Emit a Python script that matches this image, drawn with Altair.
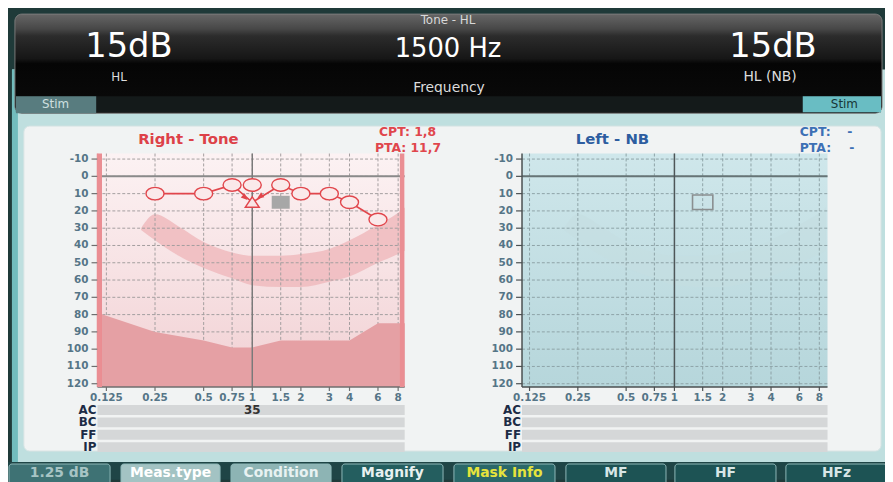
import altair as alt
import pandas as pd

# ---------------- values ----------------
FREQ_TICKS = [0.125, 0.25, 0.5, 0.75, 1, 1.5, 2, 3, 4, 6, 8]
FREQ_LABELS = ["0.125", "0.25", "0.5", "0.75", "1", "1.5", "2", "3", "4", "6", "8"]
DB_TICKS = [-10, 0, 10, 20, 30, 40, 50, 60, 70, 80, 90, 100, 110, 120]
DB_LABELS = ["-10", "0", "10", "20", "30", "40", "50", "60", "70", "80", "90", "100", "110", "120"]

RIGHT_AC_FREQ = [0.25, 0.5, 0.75, 1, 1.5, 2, 3, 4, 6]
RIGHT_AC_DB = [10, 10, 5, 5, 5, 10, 10, 15, 25]
RIGHT_LINE_FREQ = [0.25, 0.5, 0.75, 1, 1.5, 2, 3, 4, 6]
RIGHT_LINE_DB = [10, 10, 5, 15, 5, 10, 10, 15, 25]
RIGHT_MASKED_FREQ = [1]
RIGHT_MASKED_DB = [15]
ARROW_FREQ = [0.9, 1.12]
ARROW_DB = [12.2, 11.6]
ARROW_ANGLE = [133, 237]
CURSOR_FREQ = [1.5]
CURSOR_DB = [15]

BANANA_FREQ = [0.205, 0.25, 0.35, 0.5, 0.75, 1, 1.5, 2, 3, 4, 6, 8, 8.8]
BANANA_TOP = [30, 22, 29, 38, 44, 46, 46, 45, 42, 37, 28, 21, 18]
BANANA_BOTTOM = [31, 37, 46, 53, 59, 63, 64, 64, 61, 58, 50, 45, 43]

LIMIT_FREQ = [0.11, 0.25, 0.5, 0.75, 1, 1.5, 2, 4, 6, 8.8]
LIMIT_DB = [79, 90, 95, 99, 99, 95, 95, 95, 85, 85]

ROWS = ["AC", "BC", "FF", "IP"]
ROW_VALUE_FREQ = [1]
ROW_VALUE_ROW = ["AC"]
ROW_VALUE_TEXT = ["35"]

HEADER_TITLE = "Tone - HL"
HEADER_LEFT = ["15dB", "HL"]
HEADER_CENTER = ["1500 Hz", "Frequency"]
HEADER_RIGHT = ["15dB", "HL (NB)"]
RIGHT_TITLE = "Right - Tone"
LEFT_TITLE = "Left - NB"
RIGHT_STATS = ["CPT: 1,8", "PTA: 11,7"]
LEFT_STATS = [["CPT:", "-"], ["PTA:", "-"]]
BUTTONS = ["1.25 dB", "Meas.type", "Condition", "Magnify", "Mask Info", "MF", "HF", "HFz"]

# ---------------- layout / style ----------------
FONT = "DejaVu Sans"
W, H = 885, 474
RED = "#e1464c"
ONE = pd.DataFrame({"k": [0]})
YDOM = [-13.2, 121.9]
YRANGE = [144.7, 380.3]
XDOM_L, XRANGE_L = [0.1101, 8.78], [90.3, 400.3]
XDOM_R, XRANGE_R = [0.1122, 9.0], [518.7, 827.0]

ELLIPSE = "M -1 0 A 1 0.7 0 1 1 1 0 A 1 0.7 0 1 1 -1 0 Z"
TRIANGLE = "M 0 -0.78 L 1 0.72 L -1 0.72 Z"
RECT = "M -1 -0.72 L 1 -0.72 L 1 0.72 L -1 0.72 Z"
ARROW = "M 0 -1 L 0.8 0.8 L -0.8 0.8 Z"


def grad(stops):
    return alt.LinearGradient(gradient="linear", x1=0, y1=0, x2=0, y2=1,
                              stops=[alt.GradientStop(offset=o, color=c) for o, c in stops])


def box(x0, y0, x1, y1, fill, stroke=None, radius=0, sw=1.0):
    kw = {"fill": fill, "cornerRadius": radius}
    if stroke is not None:
        kw["stroke"] = stroke
        kw["strokeWidth"] = sw
    return alt.Chart(ONE).mark_rect(**kw).encode(
        x=alt.value(x0), x2=alt.value(x1), y=alt.value(y0), y2=alt.value(y1))


def label(s, x, y, size, color, weight="normal", align="center"):
    return alt.Chart(ONE).mark_text(text=s, font=FONT, fontSize=size, color=color,
                                    fontWeight=weight, align=align, baseline="middle").encode(
        x=alt.value(x), y=alt.value(y))


def audiogram(xdom, xrange, th, data_marks, limit=False, edges=False):
    xs = alt.Scale(type="log", domain=xdom, range=xrange, nice=False)
    ys = alt.Scale(type="linear", domain=YDOM, range=YRANGE, nice=False, zero=False)
    fmin, fmax = xdom
    ymin, ymax = YDOM

    def xf(field):
        return alt.X(field, type="quantitative", scale=xs, axis=None)

    def yf(field):
        return alt.Y(field, type="quantitative", scale=ys, axis=None)

    def xd(v):
        return alt.XDatum(v, type="quantitative", scale=xs, axis=None)

    def yd(v):
        return alt.YDatum(v, type="quantitative", scale=ys, axis=None)

    band_df = pd.DataFrame({"f": BANANA_FREQ, "top": BANANA_TOP, "bottom": BANANA_BOTTOM})
    tick_f = pd.DataFrame({"f": FREQ_TICKS, "lab": FREQ_LABELS})
    tick_db = pd.DataFrame({"db": DB_TICKS, "lab": DB_LABELS})
    L = [
        alt.Chart(ONE).mark_rect(fill=grad(th["bg"])).encode(
            x=xd(fmin), x2=alt.X2Datum(fmax), y=yd(ymin), y2=alt.Y2Datum(ymax)),
        alt.Chart(band_df).mark_area(fill=th["band"], opacity=th["band_op"],
                                     interpolate="monotone").encode(
            x=xf("f"), y=yf("top"), y2=alt.Y2("bottom")),
        alt.Chart(tick_f).mark_rule(color=th["grid"], strokeDash=[3, 2], strokeWidth=1).encode(
            x=xf("f"), y=yd(ymin), y2=alt.Y2Datum(ymax)),
        alt.Chart(tick_db).mark_rule(color=th["grid"], strokeDash=[3, 2], strokeWidth=1).encode(
            y=yf("db"), x=xd(fmin), x2=alt.X2Datum(fmax)),
    ]
    if limit:
        lim_df = pd.DataFrame({"f": LIMIT_FREQ, "db": LIMIT_DB})
        L.append(alt.Chart(lim_df).mark_area(fill="#e5a0a4", opacity=1).encode(
            x=xf("f"), y=yf("db"), y2=alt.Y2Datum(ymax)))
    L.append(alt.Chart(ONE).mark_rule(color=th["zero"], strokeWidth=2).encode(
        y=yd(0), x=xd(fmin), x2=alt.X2Datum(fmax)))
    L.append(alt.Chart(ONE).mark_rule(color=th["one"], strokeWidth=1.5).encode(
        x=xd(1), y=yd(ymin), y2=alt.Y2Datum(ymax)))
    # axes: domain lines, ticks and labels placed through the scales
    L += [
        alt.Chart(ONE).mark_rule(color=th["ydomain"], strokeWidth=1.5).encode(
            x=xd(fmin), y=yd(ymin), y2=alt.Y2Datum(ymax)),
        alt.Chart(ONE).mark_rule(color=th["axis"], strokeWidth=1.6).encode(
            y=yd(ymax), x=xd(fmin), x2=alt.X2Datum(fmax)),
        alt.Chart(tick_f).mark_rule(color=th["axis"], strokeWidth=1.2, y2Offset=4).encode(
            x=xf("f"), y=yd(ymax), y2=alt.Y2Datum(ymax)),
        alt.Chart(tick_db).mark_rule(color=th["axis"], strokeWidth=1.2, x2Offset=-6).encode(
            y=yf("db"), x=xd(fmin), x2=alt.X2Datum(fmin)),
        alt.Chart(tick_f).mark_text(font=FONT, fontSize=10.5, fontWeight="bold",
                                    color=th["label"], baseline="middle", dy=11).encode(
            x=xf("f"), y=yd(ymax), text="lab:N"),
        alt.Chart(tick_db).mark_text(font=FONT, fontSize=10.5, fontWeight="bold",
                                     color=th["label"], baseline="middle", align="right",
                                     dx=-9).encode(
            x=xd(fmin), y=yf("db"), text="lab:N"),
    ]
    if edges:
        L.append(alt.Chart(ONE).mark_rule(color="#ea8e93", strokeWidth=4.5, xOffset=2.3).encode(
            x=xd(fmin), y=yd(ymin), y2=alt.Y2Datum(ymax)))
        L.append(alt.Chart(ONE).mark_rule(color="#ea8e93", strokeWidth=4.5, xOffset=-2.6).encode(
            x=xd(fmax), y=yd(ymin), y2=alt.Y2Datum(ymax)))
    L += data_marks(xf, yf)
    return alt.layer(*L)


def right_ear_marks(xf, yf):
    line_df = pd.DataFrame({"f": RIGHT_LINE_FREQ, "db": RIGHT_LINE_DB})
    ac_df = pd.DataFrame({"f": RIGHT_AC_FREQ, "db": RIGHT_AC_DB})
    tri_df = pd.DataFrame({"f": RIGHT_MASKED_FREQ, "db": RIGHT_MASKED_DB})
    arr_df = pd.DataFrame({"f": ARROW_FREQ, "db": ARROW_DB, "a": ARROW_ANGLE})
    cur_df = pd.DataFrame({"f": CURSOR_FREQ, "db": CURSOR_DB})
    return [
        alt.Chart(line_df).mark_line(color=RED, strokeWidth=1.6).encode(x=xf("f"), y=yf("db")),
        alt.Chart(cur_df).mark_point(shape=RECT, size=330, filled=True, color="#a7a7a7",
                                     opacity=1).encode(x=xf("f"), y=yf("db")),
        alt.Chart(ac_df).mark_point(shape=ELLIPSE, size=330, filled=True, fill="#fae9ea",
                                    stroke=RED, strokeWidth=1.4, opacity=1).encode(
            x=xf("f"), y=yf("db")),
        alt.Chart(tri_df).mark_point(shape=TRIANGLE, size=200, filled=True, fill="#f8e4e5",
                                     stroke=RED, strokeWidth=1.4, opacity=1).encode(
            x=xf("f"), y=yf("db")),
        alt.Chart(arr_df).mark_point(shape=ARROW, size=55, filled=True, color=RED,
                                     opacity=1).encode(
            x=xf("f"), y=yf("db"), angle=alt.Angle("a:Q", scale=None)),
    ]


def left_ear_marks(xf, yf):
    cur_df = pd.DataFrame({"f": CURSOR_FREQ, "db": CURSOR_DB})
    return [
        alt.Chart(cur_df).mark_point(shape=RECT, size=420, filled=False, color="#8a8f90",
                                     strokeWidth=1.6, opacity=1).encode(x=xf("f"), y=yf("db")),
    ]


def rows_panel(xdom, xrange, with_value):
    xs = alt.Scale(type="log", domain=xdom, range=xrange, nice=False)
    rs = alt.Scale(domain=ROWS, range=[398.5, 446.0], paddingInner=0.2, paddingOuter=0)
    rows_df = pd.DataFrame({"row": ROWS})
    x_lo = alt.XDatum(xdom[0], type="quantitative", scale=xs, axis=None)
    y_row = alt.Y("row", type="nominal", scale=rs, axis=None)
    L = [
        alt.Chart(rows_df).mark_rect(color="#d5d7d8").encode(
            y=y_row, x=x_lo, x2=alt.X2Datum(xdom[1])),
        alt.Chart(rows_df).mark_text(font=FONT, fontSize=12, fontWeight="bold",
                                     color="#1c2b45", align="right", baseline="middle",
                                     dx=-1).encode(y=y_row, x=x_lo, text="row:N"),
    ]
    if with_value:
        v_df = pd.DataFrame({"f": ROW_VALUE_FREQ, "row": ROW_VALUE_ROW, "t": ROW_VALUE_TEXT})
        L.append(alt.Chart(v_df).mark_text(font=FONT, fontSize=12, fontWeight="bold",
                                           color="#333333", baseline="middle").encode(
            x=alt.X("f", type="quantitative", scale=xs, axis=None),
            y=y_row, text="t:N"))
    return alt.layer(*L)


LEFT_TH = dict(bg=[(0, "#fcf2f3"), (0.5, "#f7e2e4"), (1, "#f1d0d3")], band="#f0bcc0",
               band_op=0.9, grid="#a39e9f", zero="#8a8a8a", one="#7a7a7a",
               label="#557587", axis="#6e6e6e", ydomain="#ea8e93")
RIGHT_TH = dict(bg=[(0, "#cfe7eb"), (1, "#b6d6db")], band="#c4dde1", band_op=0.6,
                grid="#8ea3a7", zero="#667476", one="#4e5658",
                label="#557587", axis="#4a4f50", ydomain="#4a4f50")

# ---------------- chrome ----------------
layers = [
    box(4, 60, 885, 458, "#bfdfdf"),
    box(4, 60, 10, 458, "#72bcbd"),
    box(7, 4, 882, 104, grad([(0, "#666666"), (0.15, "#474747"), (0.22, "#2c2c2c"),
                              (0.45, "#161616"), (0.5, "#050505"), (1, "#0b0b0b")]),
        stroke="#7a7a7a", radius=7),
    box(8, 87, 881, 103, "#141a1a"),
    box(8, 87, 89, 104, "#587c7f"),
    box(802, 87, 881, 103, "#69bdc3"),
    box(16, 117, 881, 445, "#f1f3f3", stroke="#d6e3e3", radius=6),
    box(0, 456, 885, 474, "#1f4546"),
]

BTN_X = [(1, 103), (114, 214), (225, 326), (337, 439), (450, 552), (563, 664), (673, 775), (785, 887)]
BTN_FILL = ["#3e7274", "#a3c3c3", "#8db4b4", "#245e5f", "#2a6869", "#1d5354", "#1d5354", "#1d5354"]
BTN_TEXT = ["#a7c4c4", "#ffffff", "#e8f2f2", "#e8f0f0", "#e6e33c", "#d7e6e6", "#d7e6e6", "#d7e6e6"]
for (x0, x1), fc in zip(BTN_X, BTN_FILL):
    layers.append(box(x0, 458, x1, 480, fc, stroke="#8fb8b8", radius=3))

layers += [
    label(HEADER_TITLE, 444, 10, 12, "#d8d8d8"),
    label(HEADER_LEFT[0], 122, 37, 34, "#ffffff"),
    label(HEADER_CENTER[0], 444, 39, 26, "#ffffff"),
    label(HEADER_RIGHT[0], 772, 37, 34, "#ffffff"),
    label(HEADER_LEFT[1], 112, 68, 12, "#dcdcdc"),
    label(HEADER_CENTER[1], 445, 79, 14, "#dcdcdc"),
    label(HEADER_RIGHT[1], 769, 68, 14, "#dcdcdc"),
    label("Stim", 48, 95, 12, "#cfe0e0"),
    label("Stim", 844, 95, 12, "#173636"),
    label(RIGHT_TITLE, 182, 130, 15, "#dd4148", "bold"),
    label(LEFT_TITLE, 610, 130, 15, "#2d5da0", "bold"),
    label(RIGHT_STATS[0], 432, 123, 12.5, "#e0464c", "bold", align="right"),
    label(RIGHT_STATS[1], 437, 139, 12.5, "#e0464c", "bold", align="right"),
    label(LEFT_STATS[0][0], 799, 123, 12.5, "#3d70b5", "bold", align="left"),
    label(LEFT_STATS[0][1], 847, 123, 12.5, "#3d70b5", "bold", align="left"),
    label(LEFT_STATS[1][0], 799, 139, 12.5, "#3d70b5", "bold", align="left"),
    label(LEFT_STATS[1][1], 849, 139, 12.5, "#3d70b5", "bold", align="left"),
]

layers += [
    audiogram(XDOM_L, XRANGE_L, LEFT_TH, right_ear_marks, limit=True, edges=True),
    audiogram(XDOM_R, XRANGE_R, RIGHT_TH, left_ear_marks),
    rows_panel(XDOM_L, XRANGE_L, True),
    rows_panel(XDOM_R, XRANGE_R, False),
]

for (x0, x1), tc, name in zip(BTN_X, BTN_TEXT, BUTTONS):
    layers.append(label(name, (x0 + x1) / 2, 467, 14, tc, "bold"))

chart = alt.layer(*layers).resolve_scale(
    x="independent", y="independent"
).properties(
    width=W, height=H, padding=0,
    autosize=alt.AutoSizeParams(type="none"),
    background="#1f3a39",
).configure_view(stroke=None)

chart.save("out.html", embed_options={"renderer": "svg", "actions": False})
